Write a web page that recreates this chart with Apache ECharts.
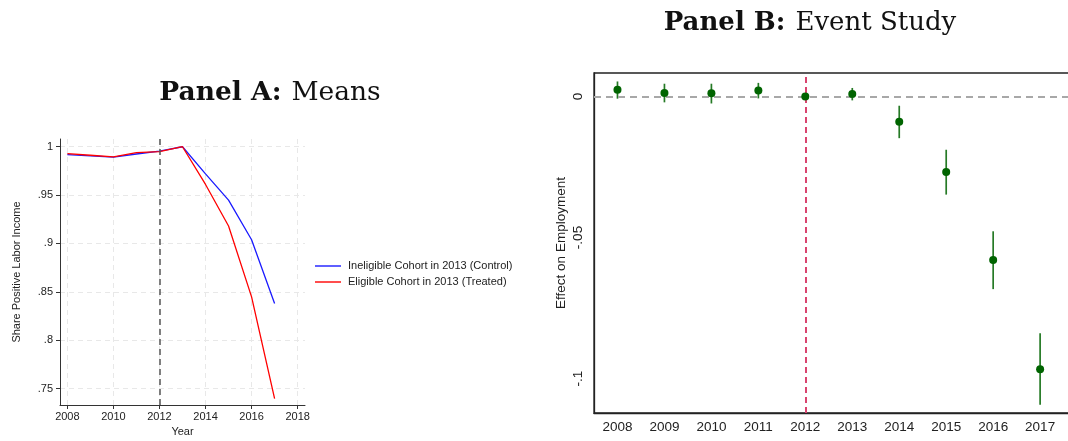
<!DOCTYPE html>
<html>
<head>
<meta charset="utf-8">
<script src="https://cdn.jsdelivr.net/npm/echarts@6/dist/echarts.min.js"></script>
<style>
html,body{margin:0;padding:0;background:#fff;}
#chart{width:1068px;height:441px;}
</style>
</head>
<body>
<div id="chart"></div>
<script>
// ---- Panel A data ----
const yearsA = [2008, 2009, 2010, 2011, 2012, 2013, 2014, 2015, 2016, 2017];
const controlShare = [0.9919, 0.9906, 0.9893, 0.9925, 0.9955, 1.0, 0.972, 0.9448, 0.9038, 0.838];
const treatedShare = [0.9929, 0.9912, 0.9896, 0.9940, 0.9950, 1.0, 0.961, 0.918, 0.8448, 0.7397];
const xTicksA = [2008, 2010, 2012, 2014, 2016, 2018];
const yTicksA = [0.75, 0.8, 0.85, 0.9, 0.95, 1];
const legendNames = ['Ineligible Cohort in 2013 (Control)', 'Eligible Cohort in 2013 (Treated)'];

// ---- Panel B data ----
const yearsB = [2008, 2009, 2010, 2011, 2012, 2013, 2014, 2015, 2016, 2017];
const coef = [0.0024, 0.0012, 0.0011, 0.0021, 0.0, 0.0009, -0.0090, -0.0268, -0.0580, -0.0967];
const ciLow = [-0.0008, -0.0021, -0.0025, -0.0007, 0.0, -0.0014, -0.0148, -0.0348, -0.0683, -0.1093];
const ciHigh = [0.0053, 0.0045, 0.0045, 0.0048, 0.0, 0.0030, -0.0033, -0.0189, -0.0478, -0.0839];
const yTicksB = [-0.1, -0.05, 0];
const eventYear = 2012;

function stataNum(v) {
  if (Math.abs(v) < 1e-9) return '0';
  let s = String(Math.round(v * 1000) / 1000);
  return s.replace(/^0\./, '.').replace(/^-0\./, '-.');
}

const chart = echarts.init(document.getElementById('chart'), null, {renderer: 'canvas'});

const sans = 'Liberation Sans, Arial, sans-serif';
const serif = 'DejaVu Serif, serif';

const option = {
  animation: false,
  backgroundColor: '#ffffff',
  graphic: [
    {
      type: 'text', x: 270, y: 93,
      style: {
        text: '{b|Panel A:}{s| }{n|Means}',
        textAlign: 'center', textVerticalAlign: 'middle',
        rich: {
          b: {fontFamily: serif, fontWeight: 'bold', fontSize: 26.5, fill: '#111'},
          s: {fontFamily: serif, fontSize: 26.5, width: 10},
          n: {fontFamily: serif, fontSize: 26.5, fill: '#111'}
        }
      }
    },
    {
      type: 'text', x: 810, y: 23,
      style: {
        text: '{b|Panel B:}{s| }{n|Event Study}',
        textAlign: 'center', textVerticalAlign: 'middle',
        rich: {
          b: {fontFamily: serif, fontWeight: 'bold', fontSize: 26, fill: '#111'},
          s: {fontFamily: serif, fontSize: 26, width: 10},
          n: {fontFamily: serif, fontSize: 26, fill: '#111'}
        }
      }
    }
  ],
  legend: {
    data: legendNames.map(n => ({name: n, icon: 'rect'})),
    orient: 'vertical',
    left: 315,
    top: 260,
    padding: 0,
    itemWidth: 26,
    itemHeight: 1.4,
    itemGap: 4,
    textStyle: {fontFamily: sans, fontSize: 11, lineHeight: 12, color: '#222', padding: [0, 0, 0, 2]}
  },
  grid: [
    {left: 60, top: 139, width: 245, height: 266, containLabel: false, outerBoundsMode: 'none'},
    {left: 594, top: 73, width: 476, height: 340, containLabel: false, outerBoundsMode: 'none',
     show: true, borderColor: '#222', borderWidth: 1.3, backgroundColor: 'transparent'}
  ],
  xAxis: [
    {
      gridIndex: 0, type: 'value', min: 2007.68, max: 2018.32,
      name: 'Year', nameLocation: 'middle', nameGap: 21,
      nameTextStyle: {fontFamily: sans, fontSize: 11, color: '#222'},
      axisLine: {show: true, onZero: false, lineStyle: {color: '#333', width: 1}},
      axisTick: {show: true, length: 4, customValues: xTicksA, lineStyle: {color: '#333'}},
      axisLabel: {customValues: xTicksA, fontFamily: sans, fontSize: 11, color: '#222', margin: 6,
                  formatter: v => String(v)},
      splitLine: {show: true, lineStyle: {color: '#e8e8e8', type: [5, 4], width: 1}}
    },
    {
      gridIndex: 1, type: 'value', min: 2007.5, max: 2007.5 + 476 / 46.96,
      axisLine: {show: true, onZero: false, lineStyle: {color: '#222', width: 1.3}},
      axisTick: {show: false, customValues: yearsB},
      axisLabel: {customValues: yearsB, fontFamily: sans, fontSize: 13.5, color: '#222', margin: 7,
                  formatter: v => String(v)},
      splitLine: {show: false}
    }
  ],
  yAxis: [
    {
      gridIndex: 0, type: 'value', min: 0.733, max: 1.008,
      name: 'Share Positive Labor Income', nameLocation: 'middle', nameGap: 38, nameRotate: 90,
      nameTextStyle: {fontFamily: sans, fontSize: 11, color: '#222'},
      axisLine: {show: true, onZero: false, lineStyle: {color: '#333', width: 1}},
      axisTick: {show: true, length: 4, customValues: yTicksA, lineStyle: {color: '#333'}},
      axisLabel: {customValues: yTicksA, fontFamily: sans, fontSize: 11, color: '#222', margin: 7,
                  formatter: v => stataNum(v)},
      splitLine: {show: true, lineStyle: {color: '#e8e8e8', type: [5, 4], width: 1}}
    },
    {
      gridIndex: 1, type: 'value', min: -0.1122, max: 0.0083,
      name: 'Effect on Employment', nameLocation: 'middle', nameGap: 26, nameRotate: 90,
      nameTextStyle: {fontFamily: sans, fontSize: 13.5, color: '#222'},
      axisLine: {show: true, onZero: false, lineStyle: {color: '#222', width: 1.3}},
      axisTick: {show: false, customValues: yTicksB},
      axisLabel: {customValues: yTicksB, rotate: 90, fontFamily: sans, fontSize: 13.5, color: '#222', margin: 9,
                  formatter: v => stataNum(v)},
      splitLine: {show: false}
    }
  ],
  series: [
    {
      name: legendNames[0], type: 'line', xAxisIndex: 0, yAxisIndex: 0,
      data: yearsA.map((y, i) => [y, controlShare[i]]),
      symbol: 'none', color: '#1a1aff',
      lineStyle: {color: '#1a1aff', width: 1.3},
      markLine: {
        silent: true, symbol: 'none', label: {show: false},
        lineStyle: {color: '#555', type: [6, 4], width: 1.5},
        data: [{xAxis: eventYear}]
      },
      z: 3
    },
    {
      name: legendNames[1], type: 'line', xAxisIndex: 0, yAxisIndex: 0,
      data: yearsA.map((y, i) => [y, treatedShare[i]]),
      symbol: 'none', color: '#ff0000',
      lineStyle: {color: '#ff0000', width: 1.3},
      z: 4
    },
    {
      name: 'ci', type: 'custom', xAxisIndex: 1, yAxisIndex: 1,
      data: yearsB.map((y, i) => [y, ciLow[i], ciHigh[i]]),
      renderItem: function (params, api) {
        const p1 = api.coord([api.value(0), api.value(1)]);
        const p2 = api.coord([api.value(0), api.value(2)]);
        return {
          type: 'line',
          shape: {x1: p1[0], y1: p1[1], x2: p2[0], y2: p2[1]},
          style: {stroke: '#267a26', lineWidth: 1.7}
        };
      },
      markLine: {
        silent: true, symbol: 'none', label: {show: false},
        data: [
          {yAxis: 0, lineStyle: {color: '#a8a8a8', type: [7, 5], width: 2}},
          {xAxis: eventYear, lineStyle: {color: '#d9446f', type: [6, 4], width: 2}}
        ]
      },
      z: 2
    },
    {
      name: 'coef', type: 'scatter', xAxisIndex: 1, yAxisIndex: 1,
      data: yearsB.map((y, i) => [y, coef[i]]),
      symbol: 'circle', symbolSize: 8,
      itemStyle: {color: '#006400', opacity: 1},
      z: 5
    }
  ]
};
chart.setOption(option);
</script>
</body>
</html>
